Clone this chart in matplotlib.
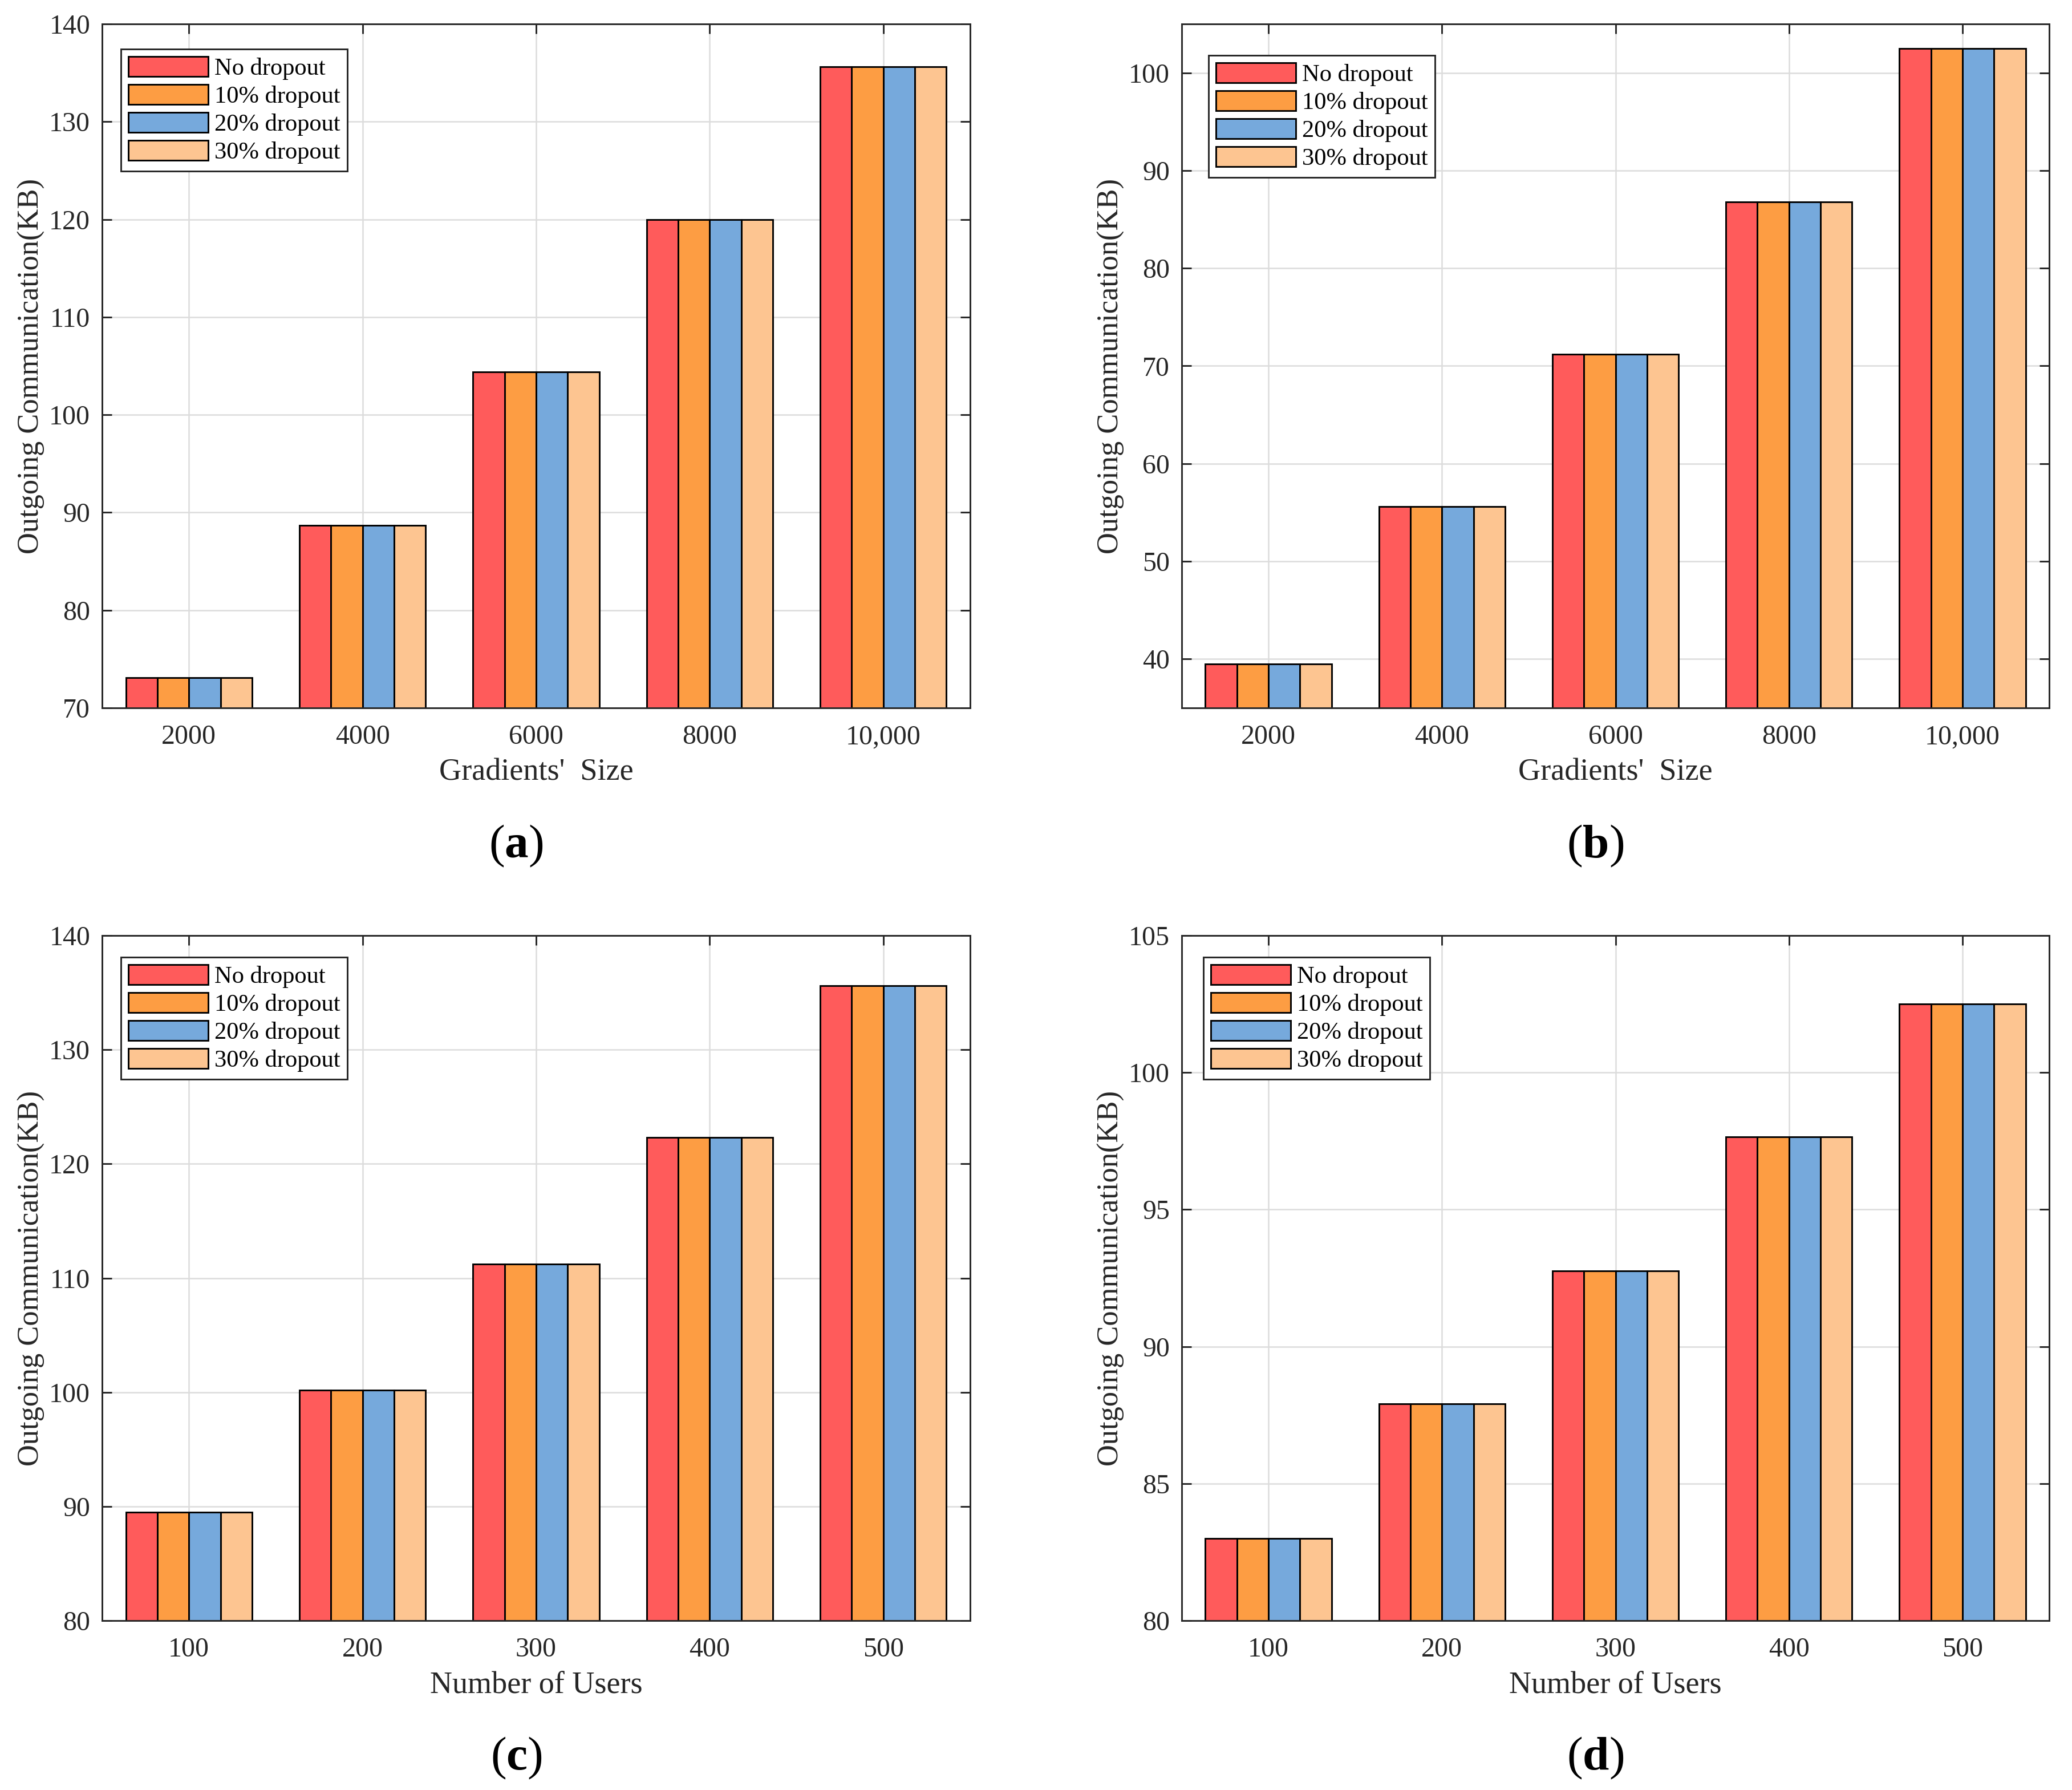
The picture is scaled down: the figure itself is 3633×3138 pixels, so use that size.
import numpy as np
import matplotlib
matplotlib.use("Agg")
import matplotlib.pyplot as plt

plt.rcParams['font.family'] = ['Liberation Serif', 'DejaVu Serif']
plt.rcParams['mathtext.fontset'] = 'custom'
plt.rcParams['mathtext.rm'] = 'Liberation Serif'
plt.rcParams['mathtext.bf'] = 'Liberation Serif:bold'

# ---- data ----
series_names = ["No dropout", "10% dropout", "20% dropout", "30% dropout"]
colors = ["#FF5B5B", "#FD9D43", "#76A9DC", "#FDC591"]

grad_sizes = ["2000", "4000", "6000", "8000", "10,000"]
users = ["100", "200", "300", "400", "500"]

vals_a = [73.1, 88.7, 104.4, 120.0, 135.6]
vals_b = [39.5, 55.6, 71.2, 86.8, 102.5]
vals_c = [89.5, 100.2, 111.2, 122.3, 135.6]
vals_d = [83.0, 87.9, 92.75, 97.65, 102.5]

panels = [
    dict(vals=vals_a, cats=grad_sizes, xlabel="Gradients'  Size", ylim=(70, 140), yticks=np.arange(70, 141, 10), tag="a", leg=(0.022, 0.963)),
    dict(vals=vals_b, cats=grad_sizes, xlabel="Gradients'  Size", ylim=(35, 105), yticks=np.arange(40, 101, 10), tag="b", leg=(0.031, 0.954)),
    dict(vals=vals_c, cats=users, xlabel="Number of Users", ylim=(80, 140), yticks=np.arange(80, 141, 10), tag="c", leg=(0.022, 0.968)),
    dict(vals=vals_d, cats=users, xlabel="Number of Users", ylim=(80, 105), yticks=np.arange(80, 106, 5), tag="d", leg=(0.025, 0.968)),
]

W, H = 3633, 3138
fig = plt.figure(figsize=(W / 300, H / 300), dpi=300)

ax_rects = [
    (179 / W, 1 - 1241 / H, 1522 / W, 1199 / H),
    (2072 / W, 1 - 1241 / H, 1521 / W, 1199 / H),
    (179 / W, 1 - 2841 / H, 1522 / W, 1201 / H),
    (2072 / W, 1 - 2841 / H, 1521 / W, 1201 / H),
]
label_pos = [(905 / W, 1 - 1483 / H), (2797 / W, 1 - 1483 / H),
             (905 / W, 1 - 3082 / H), (2797 / W, 1 - 3082 / H)]

axcol = "#262626"
nser = 4
group_w = nser / (nser + 1.5)
bw = group_w / nser

for p, rect, lp in zip(panels, ax_rects, label_pos):
    ax = fig.add_axes(rect)
    x = np.arange(1, len(p["cats"]) + 1)
    for i in range(nser):
        off = (i - (nser - 1) / 2) * bw
        ax.bar(x + off, p["vals"], width=bw, bottom=0, color=colors[i],
               edgecolor="black", linewidth=0.7, label=series_names[i], zorder=2)
    ax.set_xlim(0.5, len(p["cats"]) + 0.5)
    ax.set_ylim(*p["ylim"])
    ax.set_xticks(x)
    ax.set_xticklabels(p["cats"])
    ax.set_yticks(p["yticks"])
    ax.set_axisbelow(True)
    ax.grid(True, color="#dcdcdc", linewidth=0.6)
    ax.tick_params(direction="in", length=4, width=0.7, color=axcol,
                   top=True, right=True, labelsize=11.5, labelcolor=axcol)
    ax.tick_params(axis="x", pad=7)
    ax.tick_params(axis="y", pad=5)
    for s in ax.spines.values():
        s.set_color(axcol)
        s.set_linewidth(0.7)
        s.set_zorder(5)
    ax.set_ylabel("Outgoing Communication(KB)", fontsize=12.6, color=axcol)
    ax.yaxis.set_label_coords(-0.066, 0.5)
    ax.set_xlabel(p["xlabel"], fontsize=13, color=axcol, va="top")
    ax.xaxis.set_label_coords(0.5, -0.073)
    leg = ax.legend(loc="upper left", bbox_to_anchor=p["leg"], borderaxespad=0,
                    fontsize=10.2, handlelength=3.3, handleheight=0.9,
                    handletextpad=0.25, labelspacing=0.18, borderpad=0.3,
                    fancybox=False, framealpha=1, edgecolor=axcol)
    leg.get_frame().set_linewidth(0.7)
    leg.set_zorder(6)
    fig.text(lp[0], lp[1], "(" + r"$\mathbf{" + p["tag"] + "}$" + ")",
             fontsize=20, ha="center", va="center", color="black")

fig.savefig("out.png", dpi=300, facecolor="white")
